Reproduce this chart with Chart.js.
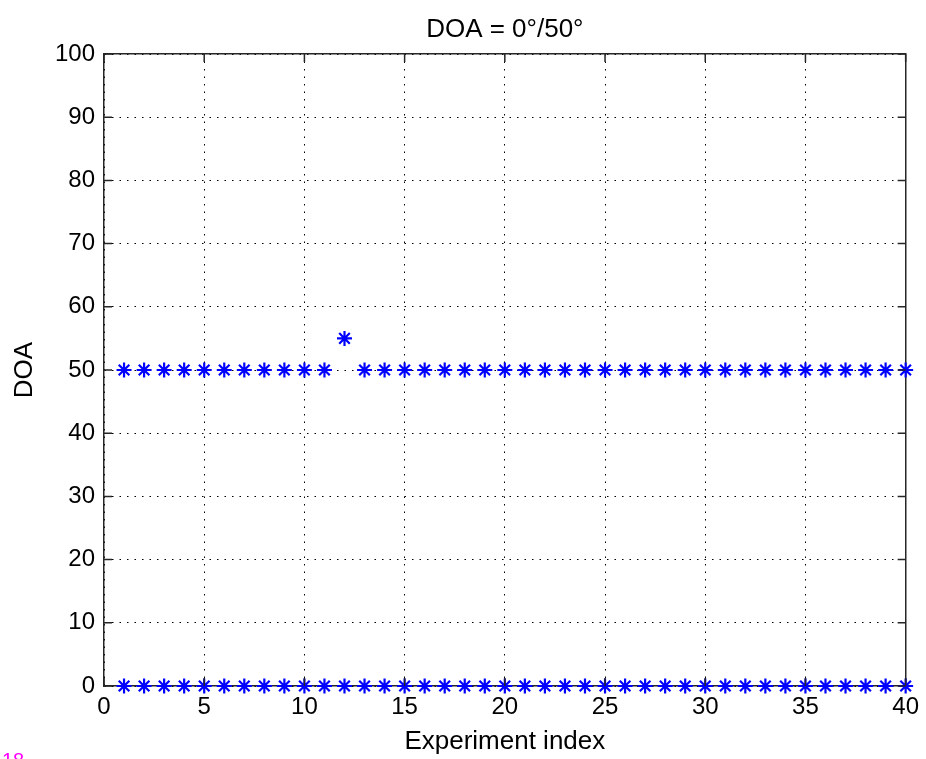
<!DOCTYPE html>
<html>
<head>
<meta charset="utf-8">
<script src="https://cdn.jsdelivr.net/npm/chart.js@4"></script>
<style>
    html, body { margin: 0; padding: 0; background: #fff; overflow: hidden; }
    #wrap { position: relative; width: 926px; height: 759px; }
    #figNo { position: absolute; left: 2px; top: 749px; color: #ff00ff; font: 20px "Liberation Sans", Arial, sans-serif; }
</style>
</head>
<body>
<div id="wrap">
    <canvas id="doaChart"></canvas>
    <div id="figNo">18</div>
</div>
<script>
// Chart data
const experimentIndex = [1, 2, 3, 4, 5, 6, 7, 8, 9, 10, 11, 12, 13, 14, 15, 16, 17, 18, 19, 20,
    21, 22, 23, 24, 25, 26, 27, 28, 29, 30, 31, 32, 33, 34, 35, 36, 37, 38, 39, 40];
const upperDoa = [50, 50, 50, 50, 50, 50, 50, 50, 50, 50, 50, 55, 50, 50, 50, 50, 50, 50, 50, 50,
    50, 50, 50, 50, 50, 50, 50, 50, 50, 50, 50, 50, 50, 50, 50, 50, 50, 50, 50, 50];
const lowerDoa = [0, 0, 0, 0, 0, 0, 0, 0, 0, 0, 0, 0, 0, 0, 0, 0, 0, 0, 0, 0,
    0, 0, 0, 0, 0, 0, 0, 0, 0, 0, 0, 0, 0, 0, 0, 0, 0, 0, 0, 0];
const xTicks = [0, 5, 10, 15, 20, 25, 30, 35, 40];
const yTicks = [0, 10, 20, 30, 40, 50, 60, 70, 80, 90, 100];

const FONT = '"Liberation Sans", Arial, Helvetica, sans-serif';
const AXIS_COLOR = '#262626';

function toPoints(ys) {
    return experimentIndex.map((x, i) => ({ x: x, y: ys[i] }));
}

// MATLAB style inward tick marks on all four sides
const innerTicks = {
    id: 'innerTicks',
    afterDatasetsDraw(chart) {
        const { ctx, chartArea: a, scales } = chart;
        const len = 8;
        ctx.save();
        ctx.strokeStyle = AXIS_COLOR;
        ctx.lineWidth = 1.5;
        ctx.beginPath();
        xTicks.forEach(v => {
            const px = scales.x.getPixelForValue(v);
            ctx.moveTo(px, a.bottom); ctx.lineTo(px, a.bottom - len);
            ctx.moveTo(px, a.top); ctx.lineTo(px, a.top + len);
        });
        yTicks.forEach(v => {
            const py = scales.y.getPixelForValue(v);
            ctx.moveTo(a.left, py); ctx.lineTo(a.left + len, py);
            ctx.moveTo(a.right, py); ctx.lineTo(a.right - len, py);
        });
        ctx.stroke();
        ctx.restore();
    }
};

function initDoaChart() {
    const ctx = document.getElementById('doaChart');
    const starStyle = {
        pointStyle: 'star',
        pointRadius: 7.5,
        pointBorderWidth: 2.2,
        borderColor: '#0000ff',
        backgroundColor: '#0000ff',
        showLine: false,
        clip: false
    };

    new Chart(ctx, {
        type: 'scatter',
        data: {
            datasets: [
                Object.assign({ label: 'DOA 50', data: toPoints(upperDoa) }, starStyle),
                Object.assign({ label: 'DOA 0', data: toPoints(lowerDoa) }, starStyle)
            ]
        },
        options: {
            responsive: true,
            maintainAspectRatio: false,
            animation: false,
            layout: { padding: { left: 0, right: 18, top: 0, bottom: 0 } },
            plugins: {
                legend: { display: false },
                tooltip: { enabled: false },
                title: { display: false }
            },
            scales: {
                x: {
                    type: 'linear',
                    position: 'bottom',
                    min: 0,
                    max: 40,
                    afterBuildTicks: s => { s.ticks = xTicks.map(v => ({ value: v })); },
                    afterFit: s => { s.height = 73; },
                    ticks: { color: '#000', font: { family: FONT, size: 24 }, padding: 7, maxRotation: 0 },
                    grid: { color: '#000', lineWidth: 1, drawTicks: false },
                    border: { display: true, color: AXIS_COLOR, width: 1.5, dash: [1.5, 6] },
                    title: {
                        display: true,
                        text: 'Experiment index',
                        color: '#000',
                        font: { family: FONT, size: 26 },
                        padding: { top: 0, bottom: 2 }
                    }
                },
                xTop: {
                    type: 'linear',
                    position: 'top',
                    min: 0,
                    max: 40,
                    afterFit: s => { s.height = 54; },
                    ticks: { display: false },
                    grid: { display: false },
                    border: { display: true, color: AXIS_COLOR, width: 1.5 },
                    title: {
                        display: true,
                        text: 'DOA = 0°/50°',
                        color: '#000',
                        font: { family: FONT, size: 26 },
                        padding: { top: 14, bottom: 0 }
                    }
                },
                y: {
                    type: 'linear',
                    position: 'left',
                    min: 0,
                    max: 100,
                    afterBuildTicks: s => { s.ticks = yTicks.map(v => ({ value: v })); },
                    afterFit: s => { s.width = 104; },
                    ticks: { color: '#000', font: { family: FONT, size: 24 }, padding: 9 },
                    grid: { color: '#000', lineWidth: 1, drawTicks: false },
                    border: { display: true, color: AXIS_COLOR, width: 1.5, dash: [1.5, 6] },
                    title: {
                        display: true,
                        text: 'DOA',
                        color: '#000',
                        font: { family: FONT, size: 26 },
                        padding: { top: 9, bottom: 0 }
                    }
                },
                yRight: {
                    type: 'linear',
                    position: 'right',
                    min: 0,
                    max: 100,
                    afterFit: s => { s.width = 0; },
                    ticks: { display: false },
                    grid: { display: false },
                    border: { display: true, color: AXIS_COLOR, width: 1.5 }
                }
            }
        },
        plugins: [innerTicks]
    });
}

document.addEventListener('DOMContentLoaded', initDoaChart);
</script>
</body>
</html>
